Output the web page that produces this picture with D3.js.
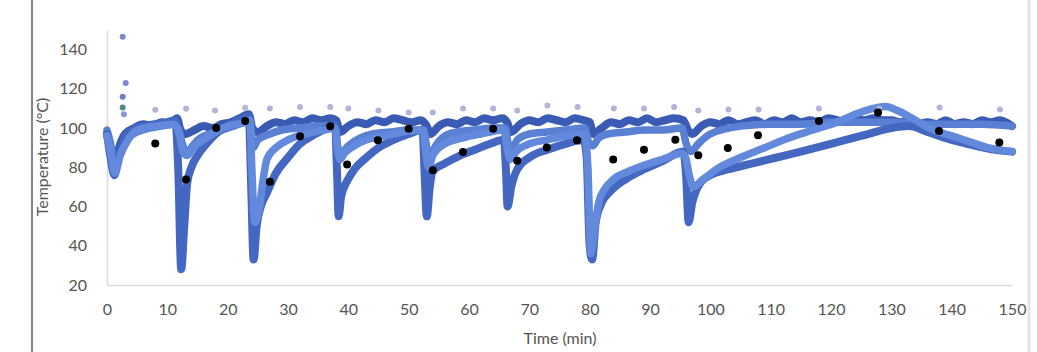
<!DOCTYPE html>
<html>
<head>
<meta charset="utf-8">
<script src="https://cdnjs.cloudflare.com/ajax/libs/d3/7.8.5/d3.min.js"></script>
<style>
  body { margin: 0; background: #fff; }
  text { font-family: Lato, "Open Sans", sans-serif; }
</style>
</head>
<body>
<script>
const width = 1037;
const height = 352;

// [time (min), temperature (°C)]
const upper = [[0,97],[0.5,90],[1.2,78],[2,90],[3,97],[4.5,100],[6,102],[7.5,101],[9,103],[10.5,102],[11.6,105],[12.2,99],[13,97],[14.5,99],[16,101],[17.5,100],[19,102],[20.5,103],[22,105],[23.5,107],[24.1,100],[25,98],[26.5,101],[28,103],[29.5,102],[31,104],[32.5,103],[34,105],[35.5,104],[37,105],[38,104],[38.6,98],[40,101],[41.5,103],[43,102],[44.5,104],[46,103],[47.5,105],[49,104],[50.5,103],[52,104],[53,101],[53.6,97],[55,101],[56.5,103],[58,102],[59.5,104],[61,103],[62.5,105],[64,104],[65.5,105],[66.3,103],[67,98],[68.5,102],[70,104],[71.5,103],[73,105],[74.5,104],[76,103],[77.5,105],[79,104],[80,103],[80.6,97],[82,100],[83.5,103],[85,102],[86.5,104],[88,103],[89.5,105],[91,103],[92.5,104],[94,105],[95.5,104],[96.3,99],[97,97],[98.5,101],[100,103],[101.5,102],[103,104],[104.5,102],[106,103],[107.5,104],[109,102],[110.5,104],[112,103],[113.5,105],[115,103],[116.5,104],[118,103],[119.5,105],[121,104],[122.5,103],[124,105],[125.5,104],[127,105],[128.5,104],[130,104],[131.5,103],[133,104],[134.5,102],[136,103],[137.5,102],[139,104],[140.5,102],[142,103],[143.5,102],[145,104],[146.5,103],[148,104],[150,101]];

const middle = [[0,99],[0.6,92],[1.3,80],[2.2,88],[3.5,95],[5,98],[7,100],[9,101],[11,102],[11.8,100],[12.5,92],[13.2,87],[14.2,91],[15.5,95],[17,97],[19,99],[21,101],[23,103],[23.7,103],[24.2,90],[25,94],[27,97],[29,99],[32,100],[35,101],[37.8,101],[38.3,90],[39,88],[40,91],[42,95],[44,97],[47,98],[50,99],[52.5,99],[53,90],[53.5,85],[54.3,90],[56,96],[58,98],[61,99],[64,100],[66,100],[66.5,92],[67,89],[68,94],[70,97],[73,98],[76,99],[79.2,100],[79.8,93],[80.5,91],[81.5,95],[83,97],[86,98],[89,99],[92,99],[95.3,100],[96,92],[96.8,88],[98,92],[100,97],[105,101],[110,102],[115,102],[120,103],[125,103],[130,103],[135,102],[140,102],[145,102],[150,101]];

const deep = [[0,97],[0.6,85],[1.2,76],[2,86],[3,95],[5,100],[8,102],[10,103],[11.3,104],[11.8,80],[12.3,28],[12.8,50],[13.3,72],[14,80],[15,86],[16.5,92],[18,97],[20,101],[22,104],[23.5,106],[23.9,70],[24.3,33],[24.8,50],[25.5,60],[26.5,67],[28,77],[30,85],[32,92],[34,96],[36.5,100],[37.8,102],[38.1,80],[38.4,55],[38.8,65],[39.8,73],[41,79],[43,85],[45,90],[47.5,94],[50,97],[52.3,99],[52.6,80],[53,55],[53.5,70],[54,78],[56,82],[58.5,86],[61,89],[63.5,92],[65.8,94],[66.1,80],[66.4,60],[67,70],[68,79],[70,85],[73,89],[76,92],[79,94],[79.5,85],[80,40],[80.4,33],[81,52],[82,62],[83.5,68],[86,74],[89,79],[92,83],[95.5,88],[96,75],[96.4,52],[97,62],[98.3,72],[100,76],[103,79],[107,82],[111,85],[115,88],[120,92],[125,96],[130,100],[133,101],[136,98],[140,94],[144,91],[147,89],[150,88]];

const light = [[0,96],[0.6,88],[1.3,77],[2.2,86],[3.5,94],[5,99],[8,101],[11,102],[11.9,98],[12.6,88],[13.3,86],[14.3,90],[16,94],[18,98],[20,101],[23,103],[23.7,104],[24,80],[24.5,52],[25.2,58],[25.8,72],[26.5,84],[28,90],[30,94],[33,97],[36,99],[37.8,100],[38.2,90],[38.6,84],[39.3,87],[41,91],[43,94],[46,96],[49,98],[52.4,99],[52.8,88],[53.3,80],[54,86],[56,92],[59,95],[62,97],[65.8,99],[66.3,90],[66.8,84],[67.8,88],[70,92],[73,94],[76,96],[79.2,97],[79.7,80],[80.2,36],[80.8,48],[81.5,62],[82.5,69],[84,74],[86.5,78],[89,81],[92,84],[95.3,87],[95.9,85],[96.5,76],[97.2,70],[98.5,73],[101,79],[105,85],[109,90],[113,95],[117,99],[121,103],[124,107],[127,110],[129,111],[131,109],[134,104],[137,99],[140,96],[143,93],[146,90],[150,88]];

const blackTime = [8, 13.1, 18.1, 22.9, 27, 32, 37, 39.8, 44.9, 50, 54, 59, 64, 68, 72.9, 77.9, 83.9, 89, 94.2, 98, 102.9, 107.9, 118, 127.8, 137.9, 147.9];
const blackTemp = [92.1, 73.8, 100, 103.6, 72.6, 95.8, 100.9, 81.4, 93.8, 99.7, 78.5, 87.8, 99.7, 83.3, 90.1, 93.8, 84, 89, 94.1, 86.2, 89.9, 96.3, 103.6, 107.9, 98.5, 92.6];

const greyTime = [8, 13.1, 17.9, 22.9, 27, 32, 37, 40, 45, 50, 54, 59, 64, 68, 73, 78, 84, 89, 94, 98, 103, 108, 118, 128, 138, 148];
const greyTemp = [109.4, 109.9, 109, 110.4, 110, 110.7, 110.7, 110, 109, 108, 108, 110, 110, 109, 111.5, 110.7, 110, 110, 110.7, 109, 109.5, 109.5, 110, 110, 110.5, 109.5];

const spikeTime = [2.6, 3.1, 2.6, 2.6, 2.8];
const spikeTemp = [146.5, 123, 116, 110.5, 107];
const spikeColor = ['#7c86cc', '#7b89d0', '#6c7dc8', '#4f8a84', '#8a96d6'];

const xTicks = d3.range(0, 151, 10);
const yTicks = [20, 40, 60, 80, 100, 120, 140];

const x = d3.scaleLinear().domain([0, 150]).range([107, 1012]);
const y = d3.scaleLinear().domain([20, 150]).range([285, 30]);

const svg = d3.select('body')
    .append('svg')
    .attr('width', width)
    .attr('height', height);

// frame lines from the source crop
svg.append('line')
    .attr('x1', 32).attr('x2', 32).attr('y1', 0).attr('y2', height)
    .attr('stroke', '#5a5a5a').attr('stroke-width', 1.5);
svg.append('line')
    .attr('x1', 1029).attr('x2', 1029).attr('y1', 0).attr('y2', height)
    .attr('stroke', '#e4e4e4').attr('stroke-width', 3);

const xAxis = svg.append('g')
    .attr('transform', `translate(0,${y(20)})`)
    .call(d3.axisBottom(x).tickValues(xTicks).tickSize(0).tickPadding(19));
const yAxis = svg.append('g')
    .attr('transform', `translate(${x(0)},0)`)
    .call(d3.axisLeft(y).tickValues(yTicks).tickSize(0).tickPadding(20));
[xAxis, yAxis].forEach(g => {
    g.select('.domain').attr('stroke', '#d9d9d9').attr('stroke-width', 1.5);
    g.selectAll('text')
        .attr('fill', '#555')
        .style('font-size', '16px')
        .style('font-family', 'Lato, sans-serif');
});

svg.append('text')
    .attr('x', 560).attr('y', 344)
    .attr('text-anchor', 'middle')
    .attr('fill', '#555')
    .style('font-size', '16px')
    .text('Time (min)');
svg.append('text')
    .attr('transform', 'translate(48,157) rotate(-90)')
    .attr('text-anchor', 'middle')
    .attr('fill', '#555')
    .style('font-size', '16px')
    .text('Temperature (°C)');

const line = d3.line()
    .x(d => x(d[0]))
    .y(d => y(d[1]))
    .curve(d3.curveMonotoneX);

const traces = [
    {data: upper, color: '#3a5bb3', w: 8},
    {data: middle, color: '#5a80d3', w: 7.5},
    {data: deep, color: '#4467c2', w: 8},
    {data: light, color: '#6289dc', w: 7.5}
];
svg.append('g')
    .selectAll('path')
    .data(traces)
    .enter()
    .append('path')
    .attr('d', d => line(d.data))
    .attr('fill', 'none')
    .attr('stroke', d => d.color)
    .attr('stroke-width', d => d.w)
    .attr('stroke-linejoin', 'round')
    .attr('stroke-linecap', 'round');

svg.append('g')
    .selectAll('circle')
    .data(greyTime)
    .enter()
    .append('circle')
    .attr('cx', d => x(d))
    .attr('cy', (d, i) => y(greyTemp[i]))
    .attr('r', 3)
    .attr('fill', '#b0b5d9');

svg.append('g')
    .selectAll('circle')
    .data(spikeTime)
    .enter()
    .append('circle')
    .attr('cx', d => x(d))
    .attr('cy', (d, i) => y(spikeTemp[i]))
    .attr('r', 3)
    .attr('fill', (d, i) => spikeColor[i]);

svg.append('g')
    .selectAll('circle')
    .data(blackTime)
    .enter()
    .append('circle')
    .attr('cx', d => x(d))
    .attr('cy', (d, i) => y(blackTemp[i]))
    .attr('r', 4)
    .attr('fill', '#000');
</script>
</body>
</html>
